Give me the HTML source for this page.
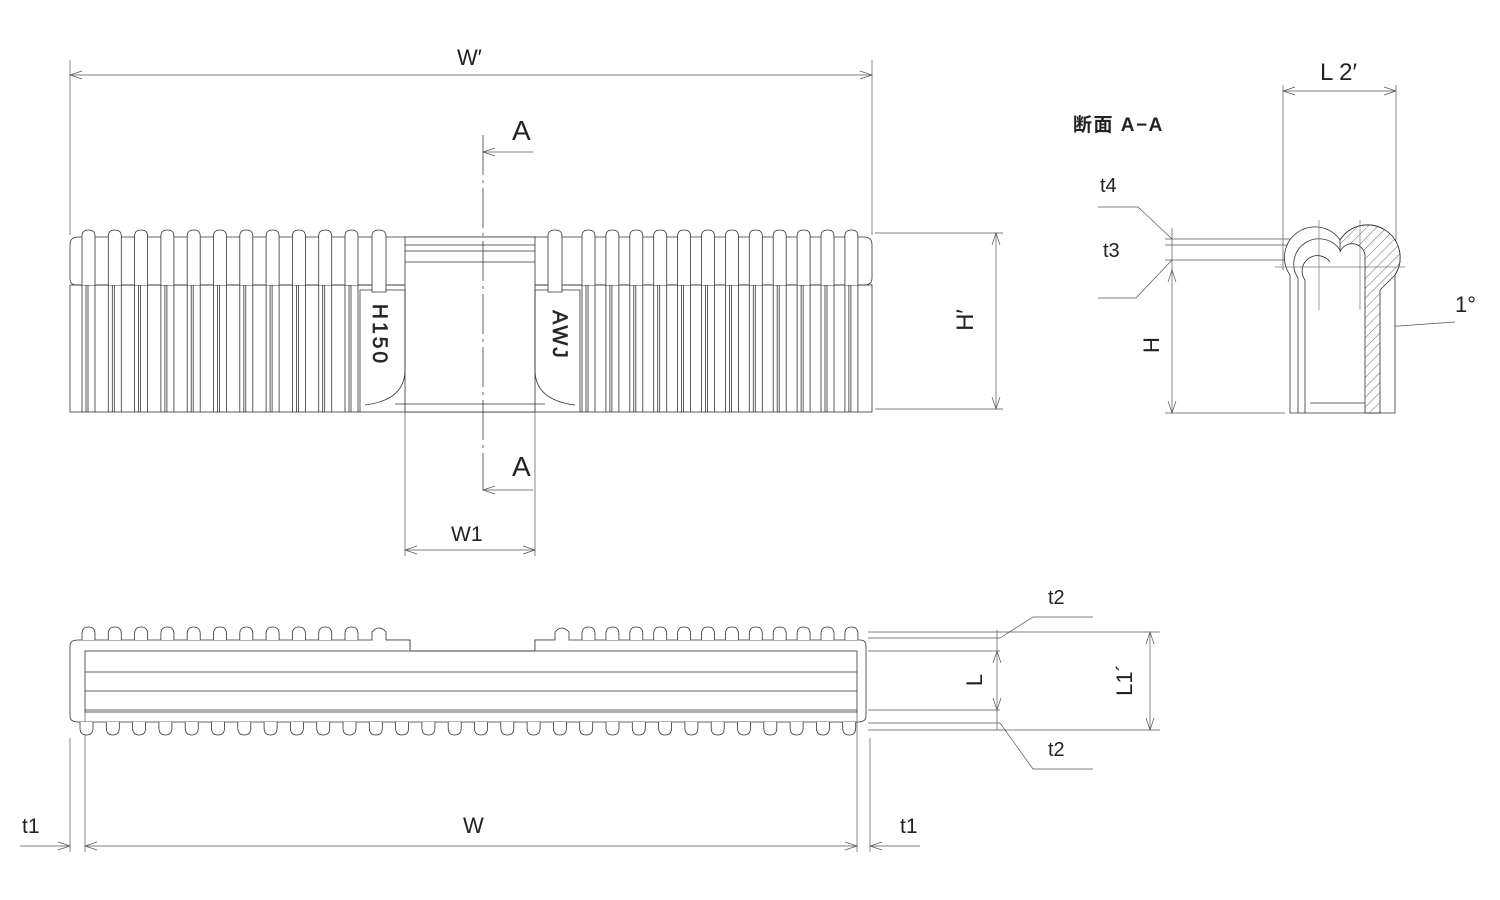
<!DOCTYPE html>
<html><head><meta charset="utf-8"><style>
html,body{margin:0;padding:0;background:#fff;}
svg{display:block}
text{font-family:"Liberation Sans","Noto Sans CJK JP",sans-serif;fill:#222;}
</style></head><body>
<svg id="s" width="1500" height="900" viewBox="0 0 1500 900" xmlns="http://www.w3.org/2000/svg">
<defs>
<pattern id="h" width="7" height="7" patternUnits="userSpaceOnUse" patternTransform="rotate(45)"><line x1="0" y1="0" x2="0" y2="7" stroke="#444" stroke-width="0.8"/></pattern>
</defs>
<g id="g" fill="none" stroke="#333" stroke-width="0.8">
<path d="M78,237 H864 Q872,237 872,245 V278 Q872,285 864,285 H76 Q70,285 70,278 V245 Q70,237 78,237 Z"/>
<rect x="70" y="285" width="802" height="127"/>
<rect x="405" y="237" width="130" height="175" fill="#fff"/>
<line x1="405" y1="245" x2="535" y2="245"/><line x1="405" y1="251" x2="535" y2="251"/><line x1="405" y1="262" x2="535" y2="262"/>
<line x1="395" y1="404" x2="545" y2="404"/>
<path d="M360,412 V290 H405 V370 Q405,400 365,405"/>
<path d="M580,412 V290 H535 V370 Q535,400 575,405"/>
<g stroke="#555" stroke-width="0.7">
<line x1="70" y1="60" x2="70" y2="235"/><line x1="872" y1="60" x2="872" y2="235"/>
<line x1="70" y1="75" x2="872" y2="75"/>
<path d="M82,71 L70,75 L82,79 M860,71 L872,75 L860,79"/>
<line x1="875" y1="233" x2="1003" y2="233"/><line x1="875" y1="409" x2="1003" y2="409"/>
<line x1="996" y1="233" x2="996" y2="409"/>
<path d="M992,245 L996,233 L1000,245 M992,397 L996,409 L1000,397"/>
<line x1="483" y1="135" x2="483" y2="490" stroke="#222" stroke-dasharray="40,5,3,5"/>
<line x1="483" y1="152" x2="533" y2="152"/><path d="M495,148 L483,152 L495,156"/>
<line x1="483" y1="490" x2="533" y2="490"/><path d="M495,486 L483,490 L495,494"/>
<line x1="405" y1="412" x2="405" y2="556"/><line x1="535" y1="412" x2="535" y2="556"/>
<line x1="405" y1="550" x2="535" y2="550"/><path d="M417,546 L405,550 L417,554 M523,546 L535,550 L523,554"/>
<line x1="1283" y1="85" x2="1283" y2="270"/><line x1="1396" y1="85" x2="1396" y2="270"/>
<line x1="1283" y1="91" x2="1396" y2="91"/><path d="M1295,87 L1283,91 L1295,95 M1384,87 L1396,91 L1384,95"/>
<line x1="1165" y1="239" x2="1300" y2="239"/><line x1="1165" y1="245" x2="1320" y2="245"/><line x1="1165" y1="260" x2="1320" y2="260"/>
<line x1="1165" y1="413" x2="1285" y2="413"/>
<line x1="1172" y1="228" x2="1172" y2="413"/>
<path d="M1168,282 L1172,270 L1176,282 M1168,401 L1172,413 L1176,401"/>
<path d="M1098,207 H1138 L1172,239 M1098,298 H1136 L1172,260"/>
<line x1="1370" y1="328" x2="1455" y2="322"/><path d="M1382,324 L1370,328 L1382,332"/>
<line x1="868" y1="632" x2="1160" y2="632"/><line x1="868" y1="730" x2="1160" y2="730"/>
<line x1="868" y1="638" x2="1000" y2="638"/><line x1="868" y1="651" x2="1000" y2="651"/>
<line x1="868" y1="710" x2="1000" y2="710"/><line x1="868" y1="723" x2="1000" y2="723"/>
<line x1="997" y1="630" x2="997" y2="730"/>
<path d="M993,663 L997,651 L1001,663 M993,698 L997,710 L1001,698"/>
<path d="M1150,632 V730 M1146,644 L1150,632 L1154,644 M1146,718 L1150,730 L1154,718"/>
<path d="M1000,638 L1033,617 H1093 M1000,723 L1033,769 H1093"/>
<line x1="70" y1="738" x2="70" y2="852"/><line x1="85" y1="712" x2="85" y2="852"/>
<line x1="857" y1="712" x2="857" y2="852"/><line x1="870" y1="738" x2="870" y2="852"/>
<line x1="85" y1="846" x2="857" y2="846"/>
<path d="M97,842 L85,846 L97,850 M845,842 L857,846 L845,850"/>
<line x1="20" y1="846" x2="70" y2="846"/><path d="M58,842 L70,846 L58,850"/>
<line x1="870" y1="846" x2="920" y2="846"/><path d="M882,842 L870,846 L882,850"/>
</g>
<g stroke="#333">
<path d="M1290,413 V275 A27,27 0 1 1 1340,240 A28,28 0 1 1 1395,275 V413 Z" fill="#fff"/>
<path d="M1340,240 A28,28 0 1 1 1395,275 L1380,290 V413 H1365 V255 A13,13 0 0 0 1340,252 Z" fill="url(#h)"/>
<path d="M1298,413 V278 A18,18 0 1 1 1340,250"/>
<path d="M1305,413 V280 A12,12 0 1 1 1330,262"/>
<line x1="1310" y1="403" x2="1365" y2="403"/>
<line x1="1275" y1="267" x2="1405" y2="267" stroke="#777" stroke-width="0.7"/>
<line x1="1319" y1="220" x2="1319" y2="310" stroke="#777" stroke-width="0.7"/>
<line x1="1360" y1="220" x2="1360" y2="310" stroke="#777" stroke-width="0.7"/>
</g>
<path d="M78,640 H410 V651 H535 V640 H860 Q866,640 866,646 V716 Q866,722 858,722 H78 Q70,722 70,716 V646 Q70,640 78,640 Z"/>
<rect x="85" y="651" width="772" height="61"/>
<line x1="85" y1="672" x2="857" y2="672"/><line x1="85" y1="691" x2="857" y2="691"/>
<line x1="85" y1="710" x2="857" y2="710"/>
</g>
<text x="457" y="65" font-size="22">W′</text>
<text x="512" y="140" font-size="28">A</text>
<text x="512" y="476" font-size="28">A</text>
<text x="451" y="541" font-size="21">W1</text>
<text x="0" y="0" font-size="24" transform="translate(965,320) rotate(-90)" text-anchor="middle" dy="8">H′</text>
<text x="0" y="0" font-size="21" letter-spacing="3" transform="translate(380,335) rotate(90)" text-anchor="middle" dy="7" fill="none" stroke="#333" stroke-width="0.7">H150</text>
<text x="0" y="0" font-size="21" letter-spacing="2" transform="translate(560,335) rotate(90)" text-anchor="middle" dy="7" fill="none" stroke="#333" stroke-width="0.7">AWJ</text>
<text x="1073" y="131" font-size="19" font-weight="bold" letter-spacing="1.5">断面 A−A</text>
<text x="1320" y="80" font-size="24">L 2′</text>
<text x="1100" y="192" font-size="20">t4</text>
<text x="1103" y="257" font-size="20">t3</text>
<text x="0" y="0" font-size="22" transform="translate(1152,345) rotate(-90)" text-anchor="middle" dy="7">H</text>
<text x="1455" y="312" font-size="22">1°</text>
<text x="1048" y="604" font-size="20">t2</text>
<text x="1048" y="756" font-size="20">t2</text>
<text x="0" y="0" font-size="22" transform="translate(975,680) rotate(-90)" text-anchor="middle" dy="7">L</text>
<text x="0" y="0" font-size="22" transform="translate(1125,680) rotate(-90)" text-anchor="middle" dy="7">L1´</text>
<text x="463" y="833" font-size="22">W</text>
<text x="22" y="833" font-size="21">t1</text>
<text x="900" y="833" font-size="21">t1</text>
</svg>
<script>
var g=document.getElementById('g'),NS='http://www.w3.org/2000/svg';
function P(d,f){var p=document.createElementNS(NS,'path');p.setAttribute('d',d);if(f)p.setAttribute('fill',f);g.appendChild(p);}
var xs=[];for(var i=0;i<11;i++)xs.push(82+i*26.3);
var xr=[];for(var i=0;i<12;i++)xr.push(582+i*23.9);
var all=xs.concat(xr);
all.forEach(function(x){var w=13;
P('M'+x+',285 V236 Q'+x+',230 '+(x+6.5)+',230 Q'+(x+w)+',230 '+(x+w)+',236 V285','#fff');
P('M'+x+',285 V412 M'+(x+w)+',285 V412 M'+(x+4)+',285 V412 M'+(x+6)+',285 V412');
P('M'+x+',640 V634 Q'+x+',627 '+(x+6.5)+',627 Q'+(x+w)+',627 '+(x+w)+',634 V640','#fff');
});
for(var i=0;i<30;i++){var x=80+i*26.3;
P('M'+x+',722 V728 Q'+x+',735 '+(x+6.5)+',735 Q'+(x+13)+',735 '+(x+13)+',728 V722','#fff');}
[372,548].forEach(function(x){P('M'+x+',292 V236 Q'+x+',230 '+(x+7)+',230 Q'+(x+14)+',230 '+(x+14)+',236 V292 Z','#fff');});
P('M372,640 V632 Q379,624 386,632 V640 H410 V651','#fff');
P('M535,651 V640 H555 V632 Q562,624 569,632 V640','#fff');
</script>
</body></html>
